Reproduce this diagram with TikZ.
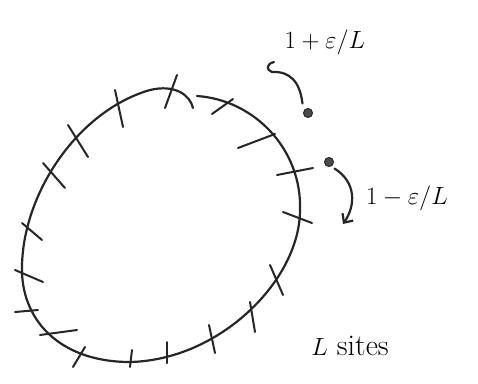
\documentclass[tikz,border=0pt]{standalone}
\usepackage{tikz}
\usetikzlibrary{positioning, arrows.meta}

\begin{document}
\begin{tikzpicture}[
    x=1pt, y=-1pt,
    line width=2.2pt, line cap=round, line join=round,
    loopline/.style={draw=black!85},
    tick/.style={draw=black!85, line width=2pt},
    site/.style={circle, fill=black!70, draw=black!85, line width=1pt, inner sep=0pt, minimum size=9pt},
    hop/.style={draw=black!85, line width=2.2pt},
    lbl/.style={font=\fontsize{30}{34}\selectfont, inner sep=0pt},
]
\useasboundingbox (0,0) rectangle (478,383);

% the ring
\draw[loopline] (197,96) .. controls (255,100) and (302,150) .. (300,210)
    .. controls (300,280) and (220,360) .. (130,362)
    .. controls (60,362) and (20,320) .. (22,265)
    .. controls (24,190) and (80,110) .. (150,90)
    .. controls (175,84) and (190,95) .. (193,108);

% sites on the ring
\foreach \xa/\ya/\xb/\yb in {115/90/123/127, 177/75/165/108, 233/99/212/114,
    238/148/275/134, 277/175/313/168, 283/212/312/223, 270/265/283/295,
    250/302/255/332, 209/325/215/353, 167/342/167/363, 132/350/130/367,
    85/347/73/367, 40/335/77/330, 15/312/38/310, 15/270/43/282,
    22/223/42/240, 43/163/65/188, 68/125/88/157}
    \draw[tick] (\xa,\ya) -- (\xb,\yb);

% particles
\node[site] (up) at (308,113) {};
\node[site] (down) at (329,162) {};

% hops
\coordinate (uptip) at (272,72);
\draw[hop] (up.north west) ++(-2,-6) .. controls (300,82) and (290,71) .. (uptip)
    .. controls (266,70) and (266,64) .. (274,62);
\coordinate (downtip) at (343,224);
\draw[hop, -{Straight Barb[length=7pt, width=13pt]}] (down.south east) ++(2,3)
    .. controls (356,182) and (356,205) .. (downtip);

% labels
\node[lbl] (plus) at (325,42) {$1+\varepsilon/L$};
\node[lbl] (minus) at (407,198) {$1-\varepsilon/L$};
\node[lbl] (sites) at (350,346) {$L$ sites};

\end{tikzpicture}
\end{document}
